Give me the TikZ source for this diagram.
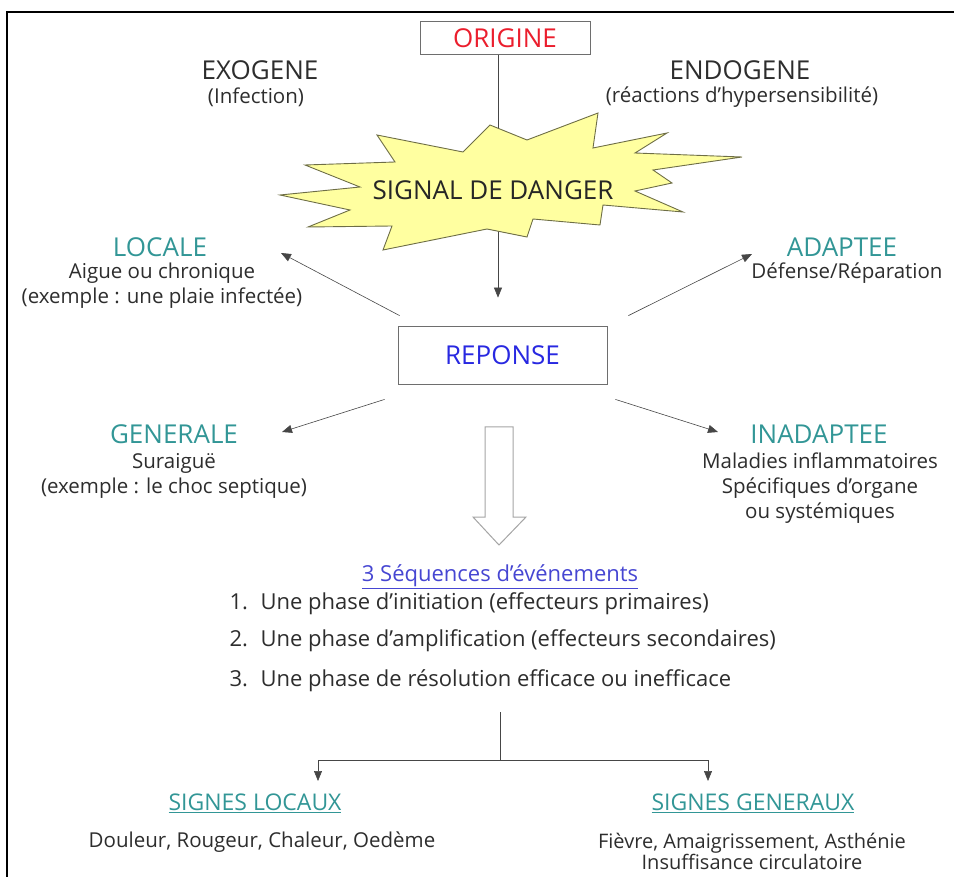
\documentclass[tikz,border=0pt]{standalone}
\usepackage{fontspec}
\setmainfont{Open Sans}
\usetikzlibrary{arrows.meta,positioning,calc}
\definecolor{inflRed}{RGB}{235,30,45}
\definecolor{inflBlue}{RGB}{40,40,225}
\definecolor{inflSeq}{RGB}{70,70,210}
\definecolor{inflTeal}{RGB}{50,150,150}
\definecolor{inflText}{RGB}{45,45,45}
\definecolor{inflLine}{RGB}{70,70,70}
\definecolor{inflBox}{RGB}{110,110,110}
\definecolor{inflStar}{RGB}{255,255,160}
\definecolor{inflStarEdge}{RGB}{110,110,70}
\definecolor{inflHollow}{RGB}{165,165,165}
\tikzset{
  infl/.style={
    x=1pt, y=-1pt,
    >={Triangle[length=10pt,width=8pt]},
    line width=0.6pt,
    every node/.style={font=\fontsize{20.5}{25}\selectfont, text=inflText}
  },
  cadre/.style={draw=black, line width=1.6pt},
  boite/.style={                   % framed key word
    draw=inflBox, line width=0.8pt,
    fill=white, inner sep=0pt
  },
  titre/.style={font=\fontsize{26}{30}\selectfont},
  branche/.style={titre, text=inflTeal},
  desc/.style={align=center},
  lien/.style={->, draw=inflLine},
  trait/.style={draw=inflLine},
  eclat/.style={draw=inflStarEdge, fill=inflStar, line width=0.9pt, line join=miter},
  creux/.style={draw=inflHollow, fill=white, line width=1pt},
  etape/.style={anchor=west, font=\fontsize{22}{26}\selectfont},
  signe/.style={font=\fontsize{23}{27}\selectfont, text=inflTeal}
}
\begin{document}
\begin{tikzpicture}[infl]
\useasboundingbox (0,0) rectangle (954,877);
\draw[cadre] (7,877) -- (7,12) -- (954,12);

% origin and its two kinds
\node[boite, titre, text=inflRed, minimum width=170, minimum height=33] (origine) at (505,38) {ORIGINE};
\node[titre] (exogene) at (260,70) {EXOGENE};
\node (exoTxt) at (256,97) {(Infection)};
\node[titre] (endogene) at (740,70) {ENDOGENE};
\node (endoTxt) at (742,97) {(réactions d'hypersensibilité)};

% response box
\node[boite, titre, text=inflBlue, minimum width=209, minimum height=58] (reponse) at (502.5,355) {REPONSE};

% vertical link, hidden behind the star
\draw[lien, shorten >=28pt] ([xshift=-7]origine.south) -- ([xshift=-7]origine.south |- reponse.north);

% danger signal
\draw[eclat] (377,135) -- (463,152) -- (490,125) -- (527,140) -- (598,113) -- (593,148)
  -- (667,133) -- (635,153) -- (742,157) -- (653,170) -- (672,183) -- (635,191)
  -- (683,212) -- (603,205) -- (600,225) -- (533,219) -- (527,237) -- (487,229)
  -- (383,250) -- (392,226) -- (308,227) -- (350,210) -- (280,195) -- (360,187)
  -- (305,165) -- (395,162) -- cycle;
\node[titre, text=black!85] (signal) at (493,190) {SIGNAL DE DANGER};

% four kinds of response
\node[branche] (locale) at (160,247) {LOCALE};
\node[desc] (localeTxt) at (162,286) {Aigue ou chronique\\(exemple : une plaie infectée)};
\node[branche] (adaptee) at (842,247) {ADAPTEE};
\node (adapteeTxt) at (847,273) {Défense/Réparation};
\node[branche] (generale) at (174,434) {GENERALE};
\node[desc] (generaleTxt) at (174,476) {Suraiguë\\(exemple : le choc septique)};
\node[branche] (inadaptee) at (819,434) {INADAPTEE};
\node[desc] (inadapteeTxt) at (820,488) {Maladies inflammatoires\\Spécifiques d'organe\\ou systémiques};

\coordinate (locTip) at (281,253);
\coordinate (adaTip) at (752,254);
\coordinate (genTip) at (282,432);
\coordinate (inaTip) at (718,432);
\draw[lien] ([shift={(2,-10)}]reponse.north west) -- (locTip);
\draw[lien] ([shift={(21,-10)}]reponse.north east) -- (adaTip);
\draw[lien] ([shift={(-13,15)}]reponse.south west) -- (genTip);
\draw[lien] ([shift={(8,15)}]reponse.south east) -- (inaTip);

% hollow arrow
\draw[creux] (485,427) -- (513,427) -- (513,517) -- (526,517) -- (499,545)
  -- (473,517) -- (485,517) -- cycle;

% sequence of events
\node[font=\fontsize{22}{26}\selectfont, text=inflSeq] (sequences) at (500,577)
  {\underline{3 Séquences d'événements}};
\node[etape] (etape1) at (226,604) {\makebox[31pt][l]{1.}Une phase d'initiation (effecteurs primaires)};
\node[etape] (etape2) at (226,641) {\makebox[31pt][l]{2.}Une phase d'amplification (effecteurs secondaires)};
\node[etape] (etape3) at (226,681) {\makebox[31pt][l]{3.}Une phase de résolution efficace ou inefficace};

% split towards the signs
\coordinate (forkTop) at (500,712);
\coordinate (fork) at (500,760);
\coordinate (locauxTip) at (318,781);
\coordinate (generauxTip) at (708,781);
\draw[trait] (forkTop) -- (fork);
\draw[lien] (fork) -| (locauxTip);
\draw[lien] (fork) -| (generauxTip);

\node[signe] (locaux) at (255,803) {\underline{SIGNES LOCAUX}};
\node (locauxTxt) at (262,842) {Douleur, Rougeur, Chaleur, Oedème};
\node[signe] (generaux) at (753,803) {\underline{SIGNES GENERAUX}};
\node[desc, font=\fontsize{20}{21}\selectfont] (generauxTxt) at (752,851)
  {Fièvre, Amaigrissement, Asthénie\\Insuffisance circulatoire};
\end{tikzpicture}
\end{document}
